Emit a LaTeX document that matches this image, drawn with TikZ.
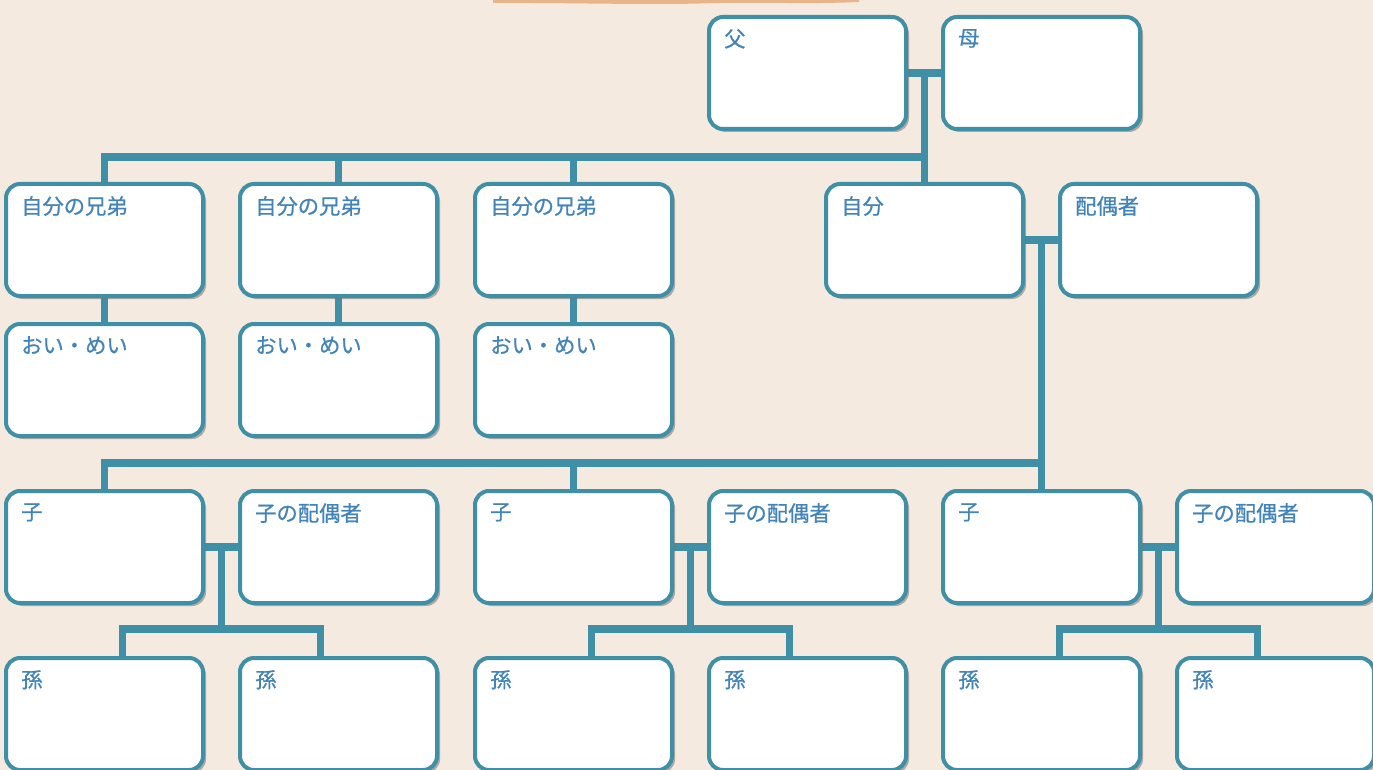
\documentclass[tikz,border=0pt]{standalone}
\usepackage{fontspec}
\setmainfont{Noto Sans CJK JP}
\newfontfamily\lblfont[FakeBold=0.6]{Noto Sans CJK JP}
\usetikzlibrary{shadows,calc}
\pgfdeclarelayer{paper}
\pgfdeclarelayer{background}
\pgfsetlayers{paper,background,main}
\definecolor{bg}{HTML}{F4EADF}
\definecolor{teal}{HTML}{3F8FA7}
\definecolor{txt}{HTML}{4283B8}
\definecolor{orng}{HTML}{E8B48A}
\tikzset{
  box/.style={draw=teal, line width=4pt, fill=white, rounded corners=14pt,
    minimum width=197pt, minimum height=112pt, inner sep=0pt, outer sep=0pt,
    drop shadow={shadow xshift=3pt, shadow yshift=-3pt, fill=black!55, opacity=0.55},
    anchor=north west},
  lbl/.style={anchor=north west, inner sep=0pt, xshift=15pt, yshift=-12pt,
    text=txt, font=\lblfont\fontsize{21.3}{25}\selectfont},
  conn/.style={draw=teal, line width=7.5pt, line join=miter},
}
\begin{document}
\begin{tikzpicture}[x=1pt,y=-1pt]
\begin{pgfonlayer}{paper}
\fill[bg] (0,0) rectangle (1373,770);
\end{pgfonlayer}
\useasboundingbox (0,0) rectangle (1373,770);
\clip (0,0) rectangle (1373,770);
% top decoration
\fill[orng] (493,-1) -- (859,-1) -- (859,2) .. controls (800,4.5) and (760,1.5) .. (700,3.5)
  .. controls (640,5) and (560,2.5) .. (493,3) -- cycle;

\coordinate (bar1) at (0,157);
\coordinate (bar2) at (0,463);
\coordinate (bar3) at (0,629);

\node[box, label={[lbl]north west:父}] (fa) at (709,17) {};
\node[box, label={[lbl]north west:母}] (mo) at (943,17) {};
\node[box, label={[lbl]north west:自分の兄弟}] (s1) at (6,184) {};
\node[box, label={[lbl]north west:自分の兄弟}] (s2) at (240,184) {};
\node[box, label={[lbl]north west:自分の兄弟}] (s3) at (475,184) {};
\node[box, label={[lbl]north west:自分}] (me) at (826,184) {};
\node[box, label={[lbl]north west:配偶者}] (sp) at (1060,184) {};
\node[box, label={[lbl]north west:おい・めい}] (n1) at (6,324) {};
\node[box, label={[lbl]north west:おい・めい}] (n2) at (240,324) {};
\node[box, label={[lbl]north west:おい・めい}] (n3) at (475,324) {};
\node[box, label={[lbl]north west:子}] (c1) at (6,491) {};
\node[box, label={[lbl]north west:子の配偶者}] (d1) at (240,491) {};
\node[box, label={[lbl]north west:子}] (c2) at (475,491) {};
\node[box, label={[lbl]north west:子の配偶者}] (d2) at (709,491) {};
\node[box, label={[lbl]north west:子}] (c3) at (943,491) {};
\node[box, label={[lbl]north west:子の配偶者}] (d3) at (1177,491) {};
\node[box, label={[lbl]north west:孫}] (g1) at (6,658) {};
\node[box, label={[lbl]north west:孫}] (g2) at (240,658) {};
\node[box, label={[lbl]north west:孫}] (g3) at (475,658) {};
\node[box, label={[lbl]north west:孫}] (g4) at (709,658) {};
\node[box, label={[lbl]north west:孫}] (g5) at (943,658) {};
\node[box, label={[lbl]north west:孫}] (g6) at (1177,658) {};

\coordinate (fm) at ($(fa.east)!0.5!(mo.west)$);
\coordinate (ms) at ($(me.east)!0.5!(sp.west)$);
\coordinate (cd1) at ($(c1.east)!0.5!(d1.west)$);
\coordinate (cd2) at ($(c2.east)!0.5!(d2.west)$);
\coordinate (cd3) at ($(c3.east)!0.5!(d3.west)$);
\foreach \g/\s in {g1/18, g2/-18, g3/18, g4/-18, g5/18, g6/-18}{
  \coordinate (\g t) at ($(\g.north)+(\s,0)$);
}

\begin{pgfonlayer}{background}
\draw[conn] (fa.east) -- (mo.west);
\draw[conn] (fm) -- (me.north);
\draw[conn] (s1.north) |- (fm |- bar1);
\draw[conn] (s2.north) -- (s2.north |- bar1);
\draw[conn] (s3.north) -- (s3.north |- bar1);
\draw[conn] (s1.south) -- (n1.north);
\draw[conn] (s2.south) -- (n2.north);
\draw[conn] (s3.south) -- (n3.north);

\draw[conn] (me.east) -- (sp.west);
\draw[conn] (ms) -- (c3.north);
\draw[conn] (c1.north) |- (ms |- bar2);
\draw[conn] (c2.north) -- (c2.north |- bar2);

\foreach \c/\d/\m/\ga/\gb in {c1/d1/cd1/g1/g2, c2/d2/cd2/g3/g4, c3/d3/cd3/g5/g6}{
  \draw[conn] (\c.east) -- (\d.west);
  \draw[conn] (\m) -- (\m |- bar3);
  \draw[conn] (\ga t) |- (\gb t |- bar3) -- (\gb t);
}
\end{pgfonlayer}
\end{tikzpicture}
\end{document}
